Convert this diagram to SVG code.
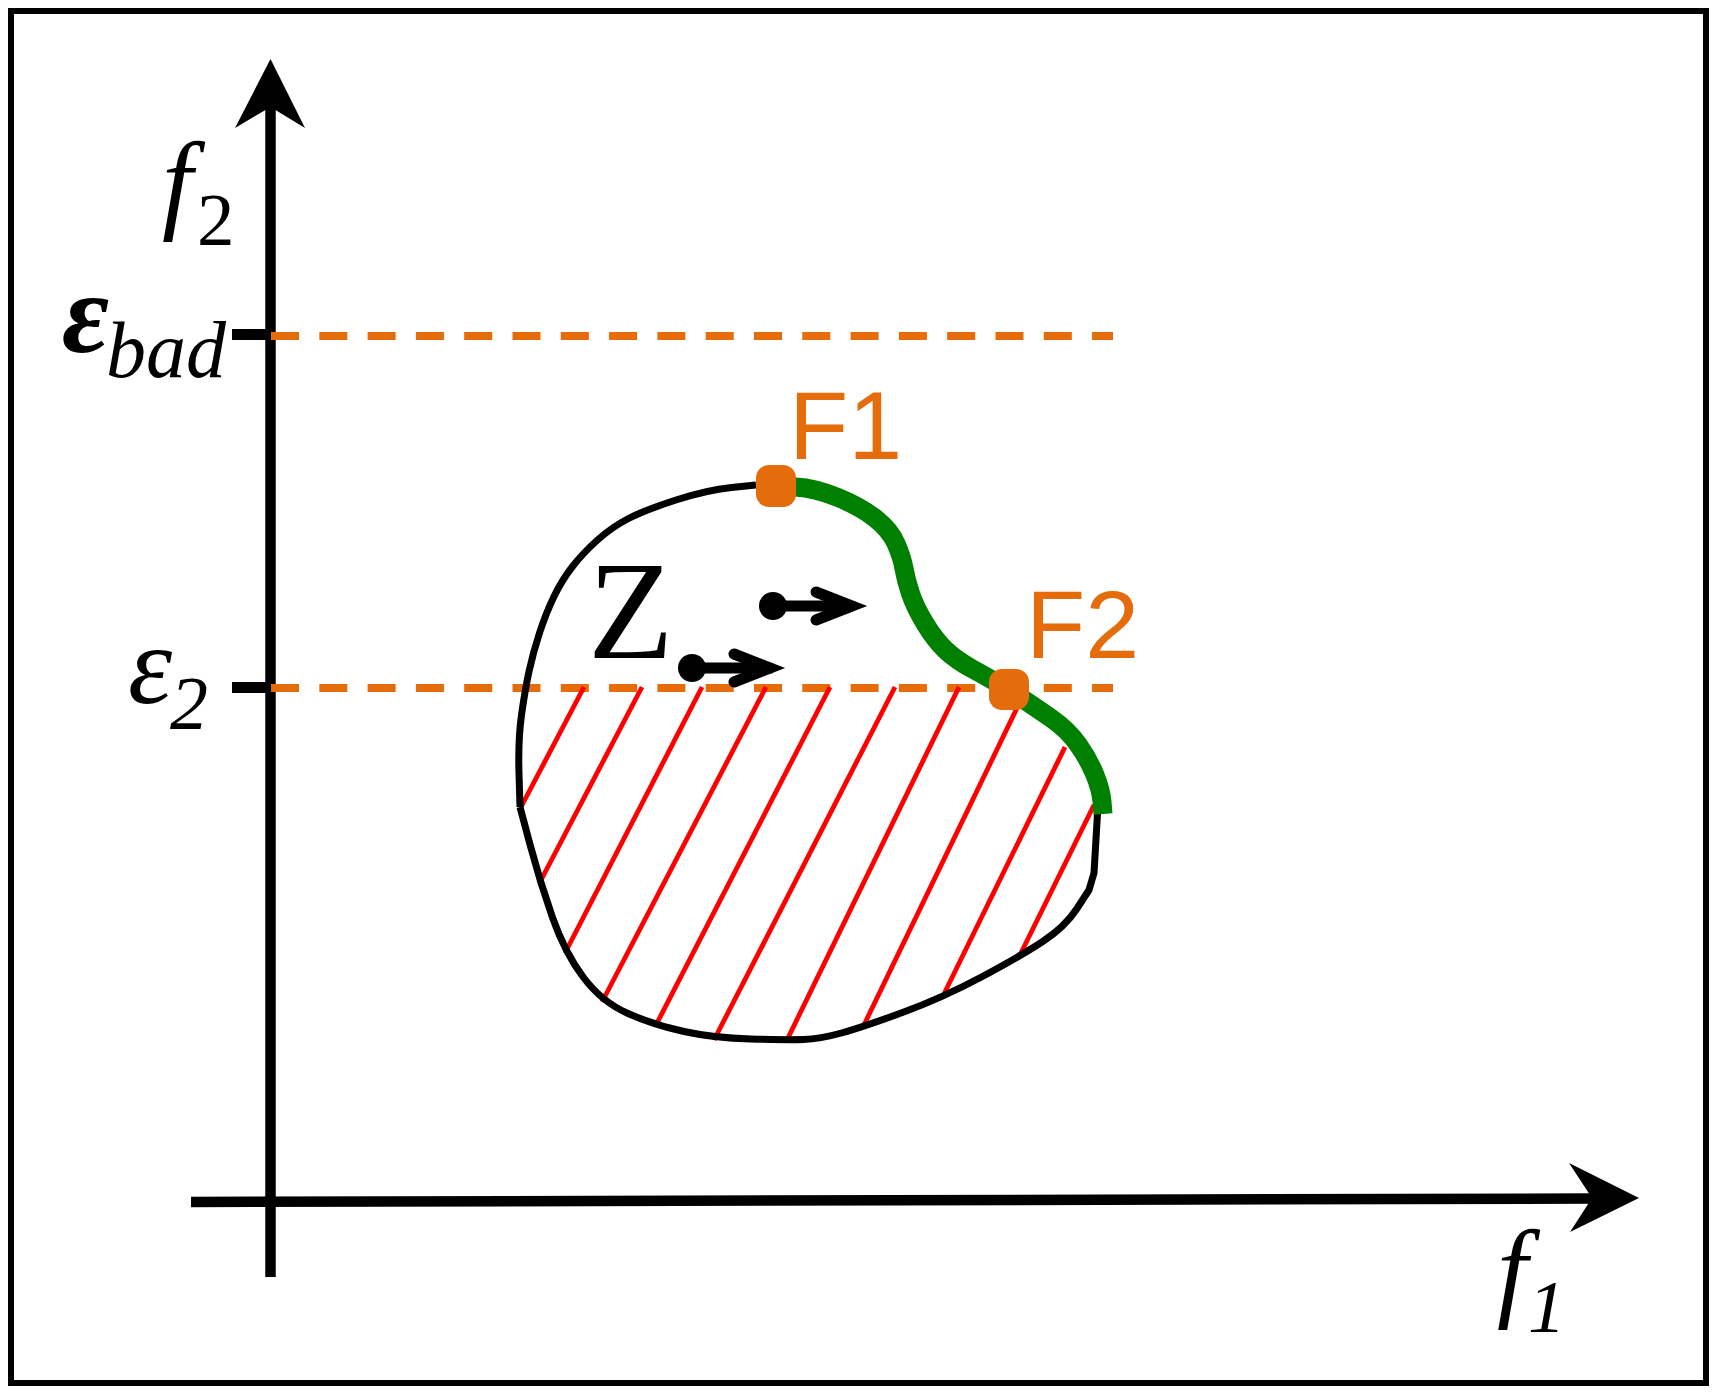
<svg xmlns="http://www.w3.org/2000/svg" width="1717" height="1397" viewBox="0 0 1717 1397">
<style>
.ax{stroke:#000;stroke-width:10.5;fill:none}
.tick{stroke:#000;stroke-width:11;fill:none}
.dash{stroke:#E46C0A;stroke-width:8;fill:none;stroke-dasharray:28 20.3}
.outline{stroke:#000;stroke-width:7;fill:none;stroke-linejoin:round}
.front{stroke:#008000;stroke-width:19;fill:none}
.hatch{stroke:#FF0000;stroke-width:4.8}
.math{font-family:Liberation Serif,DejaVu Serif,serif;font-style:italic;fill:#000}
.rm{font-family:Liberation Serif,DejaVu Serif,serif;fill:#000}
.lbl{font-family:Liberation Sans,Arial,sans-serif;fill:#E46C0A;font-size:97px}
.pt{fill:#E46C0A}
.mv{stroke:#000;stroke-width:11;fill:none;stroke-linecap:round;stroke-miterlimit:10}
</style>
<rect x="0" y="0" width="1717" height="1397" fill="#fff"/>
<rect id="frame" x="11" y="11" width="1695" height="1372" fill="none" stroke="#000" stroke-width="6"/>

<g id="connectors">
  <g id="y-axis">
    <line class="ax" x1="270.5" y1="105" x2="270.5" y2="1277"/>
    <polygon points="270.5,59 305,128 270.5,107 235,128" fill="#000"/>
  </g>
  <g id="x-axis">
    <line class="ax" x1="191" y1="1202" x2="1594" y2="1198.5" stroke-width="11"/>
    <polygon points="1639,1198 1569,1163 1592,1198 1570,1232" fill="#000"/>
  </g>
  <line class="tick" x1="232" y1="334.5" x2="266" y2="334.5"/>
  <line class="tick" x1="232" y1="687.5" x2="266" y2="687.5"/>
  <line class="dash" x1="271" y1="336" x2="1113" y2="336"/>
  <line class="dash" x1="271" y1="688" x2="1113" y2="688"/>
</g>

<g id="feasible-region">
  <g id="hatching">
    <line class="hatch" x1="584" y1="687" x2="521" y2="807"/>
    <line class="hatch" x1="642" y1="687" x2="540" y2="882"/>
    <line class="hatch" x1="702" y1="687" x2="565" y2="953"/>
    <line class="hatch" x1="766" y1="687" x2="602" y2="1002"/>
    <line class="hatch" x1="830" y1="687" x2="656" y2="1025"/>
    <line class="hatch" x1="895" y1="687" x2="714" y2="1040"/>
    <line class="hatch" x1="959" y1="687" x2="787" y2="1040"/>
    <line class="hatch" x1="1017" y1="708" x2="863" y2="1027"/>
    <line class="hatch" x1="1065" y1="747" x2="942" y2="998"/>
    <line class="hatch" x1="1094" y1="805" x2="1019" y2="957"/>
  </g>
  <path class="outline" d="M756,485 L731.5,487.5 Q707,490 676,500 Q645,510 628.5,518.5 Q612,527 597.5,540 Q583,553 572.5,566.5 Q562,580 554,596.5 Q546,613 539.5,633 Q533,653 529,671.5 Q525,690 521.5,715 Q518,740 519,773.5 L520,807"/>
  <path class="outline" d="M520,807 L530,844.5 Q540,882 552.5,917.5 Q565,953 583.5,977.5 Q602,1002 628,1013.5 Q654,1025 684,1031.5 Q714,1038 750.5,1039 Q787,1040 803.5,1039.5 Q820,1039 841.5,1033 Q863,1027 902.5,1012.5 Q942,998 980.5,977.5 Q1019,957 1042,942 Q1065,927 1077,908.5 L1089,890 L1094,873 L1098,805"/>
  <path id="pareto-front" class="front" d="M776,486 L795.5,487 Q815,488 838,497.5 Q861,507 875.5,518.5 Q890,530 896,543.5 Q902,557 904,568.5 Q906,580 910.5,593.5 Q915,607 925,623.5 Q935,640 945.5,650 Q956,660 972.5,669 Q989,678 999,684 Q1009,690 1022,698.5 Q1035,707 1051.5,718.5 Q1068,730 1078.5,745 Q1089,760 1095,775 Q1101,790 1102,801.5 L1103,814"/>
</g>

<g id="node-F1">
  <rect class="pt" x="756" y="465" width="40" height="42" rx="13"/>
  <text class="lbl" x="789" y="459">F1</text>
</g>
<g id="node-F2">
  <rect class="pt" x="989" y="669" width="40" height="41" rx="13"/>
  <text class="lbl" x="1026" y="658">F2</text>
</g>

<g id="node-Z">
  <text class="rm" x="588" y="658" font-size="140">Z</text>
  <g id="move-1">
    <circle cx="773" cy="606" r="14"/>
    <line class="mv" x1="773" y1="606" x2="850" y2="606" stroke-linecap="butt"/>
    <polyline class="mv" points="816,592 852,606 816,620"/>
  </g>
  <g id="move-2">
    <circle cx="692" cy="668" r="14"/>
    <line class="mv" x1="692" y1="668" x2="770" y2="668" stroke-linecap="butt"/>
    <polyline class="mv" points="734,654 770,668 734,682"/>
  </g>
</g>

<g id="label-f2">
  <text class="math" x="162" y="219" font-size="110">f</text>
  <text class="rm" x="197" y="245" font-size="75">2</text>
</g>
<g id="label-eps-bad">
  <text class="math" x="62" y="352" font-size="115" font-weight="bold">ε</text>
  <text class="math" x="106" y="377" font-size="80">bad</text>
</g>
<g id="label-eps-2">
  <text class="math" x="128" y="703" font-size="112">ε</text>
  <text class="math" x="170" y="729" font-size="76">2</text>
</g>
<g id="label-f1">
  <text class="math" x="1497" y="1307" font-size="110">f</text>
  <text class="math" x="1528" y="1332" font-size="75">1</text>
</g>
</svg>
